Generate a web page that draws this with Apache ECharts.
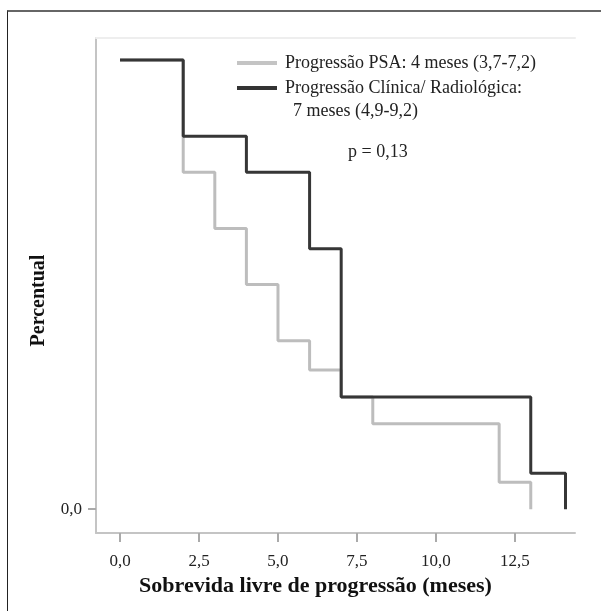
<!DOCTYPE html>
<html>
<head>
<meta charset="utf-8">
<script src="https://cdn.jsdelivr.net/npm/echarts@6/dist/echarts.min.js"></script>
<style>
  html, body { margin: 0; padding: 0; background: #fff; }
  #chart { width: 601px; height: 611px; }
  #frame {
    position: absolute; left: 7px; top: 10px; right: -5px; bottom: -5px;
    border-top: 2px solid #666; border-left: 1.5px solid #222;
    pointer-events: none;
  }
</style>
</head>
<body>
<div id="chart"></div>
<div id="frame"></div>
<script>
// Kaplan-Meier steps: [mes, proporcao]
const psaName = 'Progressão PSA: 4 meses (3,7-7,2)'
const clinName = 'Progressão Clínica/ Radiológica:'
const psaSteps = [[0, 1], [2, 0.75], [3, 0.625], [4, 0.5], [5, 0.375], [6, 0.31], [7, 0.25], [8, 0.19], [12, 0.06], [13, 0]]
const clinSteps = [[0, 1], [2, 0.83], [4, 0.75], [6, 0.58], [7, 0.25], [13, 0.08], [14.1, 0]]
const xTicks = [0, 2.5, 5, 7.5, 10, 12.5]
const yTicks = [0]

const serif = 'Liberation Serif'
const fmt = (v) => v.toFixed(1).replace('.', ',')

const chart = echarts.init(document.getElementById('chart'))

chart.setOption({
  animation: false,
  textStyle: { fontFamily: serif },
  grid: { left: 96, right: 26, top: 38, bottom: 78 },
  legend: {
    data: [
      { name: psaName, itemStyle: { color: '#c4c4c4' } },
      { name: clinName, itemStyle: { color: '#333' } },
    ],
    orient: 'vertical',
    left: 237,
    top: 53,
    padding: 0,
    icon: 'rect',
    itemWidth: 40,
    itemHeight: 4,
    itemGap: 5,
    textStyle: { fontFamily: serif, fontSize: 18, color: '#222', lineHeight: 20, padding: [0, 0, 0, 3] },
  },
  graphic: [
    { type: 'text', left: 293, top: 102, style: { text: '7 meses (4,9-9,2)', font: '18px "Liberation Serif"', fill: '#222' } },
    { type: 'text', left: 348, top: 143, style: { text: 'p = 0,13', font: '18px "Liberation Serif"', fill: '#222' } },
  ],
  xAxis: [
    {
      type: 'value',
      min: -0.76,
      max: 14.4,
      name: 'Sobrevida livre de progressão (meses)',
      nameLocation: 'middle',
      nameGap: 38,
      nameTextStyle: { fontFamily: serif, fontSize: 22, fontWeight: 'bold', color: '#111', padding: [0, 40, 0, 0] },
      axisLine: { onZero: false, lineStyle: { color: '#c4c4c4', width: 2 } },
      axisTick: { customValues: xTicks, length: 9, lineStyle: { color: '#aaa', width: 2 } },
      axisLabel: { customValues: xTicks, formatter: fmt, margin: 20, fontSize: 17, color: '#222', fontFamily: serif },
      splitLine: { show: false },
    },
    {
      type: 'value',
      position: 'top',
      min: -0.76,
      max: 14.4,
      axisLine: { onZero: false, lineStyle: { color: '#eeeeee', width: 2 } },
      axisTick: { show: false },
      axisLabel: { show: false },
      splitLine: { show: false },
    },
  ],
  yAxis: {
    type: 'value',
    min: -0.053,
    max: 1.049,
    name: 'Percentual',
    nameLocation: 'middle',
    nameGap: 47,
    nameTextStyle: { fontFamily: serif, fontSize: 20, fontWeight: 'bold', color: '#111', padding: [0, 30, 0, 0] },
    axisLine: { onZero: false, lineStyle: { color: '#c4c4c4', width: 2 } },
    axisTick: { customValues: yTicks, length: 8, lineStyle: { color: '#aaa', width: 2 } },
    axisLabel: { customValues: yTicks, formatter: fmt, margin: 14, fontSize: 17, color: '#222', fontFamily: serif },
    splitLine: { show: false },
  },
  series: [
    {
      name: psaName,
      type: 'line',
      step: 'end',
      data: psaSteps,
      symbol: 'none',
      lineStyle: { color: '#bdbdbd', width: 3 },
      itemStyle: { color: '#bdbdbd' },
      z: 2,
    },
    {
      name: clinName,
      type: 'line',
      step: 'end',
      data: clinSteps,
      symbol: 'none',
      lineStyle: { color: '#363636', width: 3 },
      itemStyle: { color: '#363636' },
      z: 3,
    },
  ],
})
</script>
</body>
</html>
